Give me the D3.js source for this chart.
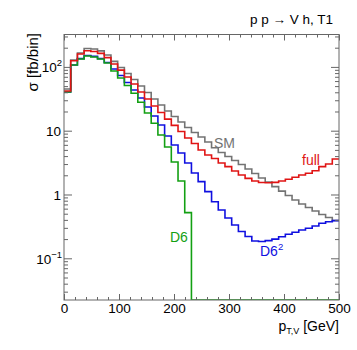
<!DOCTYPE html>
<html>
<head>
<meta charset="utf-8">
<script src="https://cdn.jsdelivr.net/npm/d3@7"></script>
<style>
body { margin: 0; background: #fff; }
text { font-family: "Liberation Sans", Arial, sans-serif; }
</style>
</head>
<body>
<svg id="chart"></svg>
<script>
var width = 357;
var height = 350;

// histogram: 41 bins between 0 and 500 GeV
var xMin = 0, xMax = 500, nBins = 41;

var sm = [45, 128, 165, 194, 191, 178, 154, 122, 98, 78.8, 63.4, 50.2, 39.7, 31.4, 25.3, 20.4,
  16.7, 13.7, 11.2, 9.37, 7.96, 6.65, 5.4, 4.55, 3.95, 3.42, 2.95, 2.51, 2.13, 1.81, 1.57,
  1.33, 1.13, 0.965, 0.82, 0.71, 0.625, 0.551, 0.486, 0.436, 0.391];

var full = [41.9, 125, 159, 179, 174, 163, 140, 111, 89, 69.5, 54, 40.4, 31.4, 24.4, 19.3, 15.2,
  12.1, 9.7, 7.69, 6.3, 4.98, 4.16, 3.67, 3.12, 2.73, 2.34, 2.02, 1.79, 1.63, 1.54, 1.53,
  1.55, 1.63, 1.73, 1.86, 2.02, 2.15, 2.36, 2.73, 3.0, 3.6];

var d6sq = [40.4, 107, 135, 151, 146, 135, 117, 92.7, 73.3, 56.9, 43.5, 32.6, 23.5, 17, 12.3, 8.26,
  5.97, 4.47, 3.12, 2.17, 1.59, 1.11, 0.77, 0.57, 0.428, 0.333, 0.263, 0.22, 0.187, 0.183, 0.189,
  0.2, 0.218, 0.238, 0.256, 0.278, 0.295, 0.32, 0.354, 0.375, 0.39];

var d6 = [40.4, 107, 133, 148, 143, 133, 115, 86.3, 67, 51.1, 38.6, 27.9, 18.9, 13.1, 8.56, 5.55,
  3.23, 1.63, 0.52, 0, 0, 0, 0, 0, 0, 0, 0, 0, 0, 0, 0,
  0, 0, 0, 0, 0, 0, 0, 0, 0, 0];

var xTicks = [0, 100, 200, 300, 400, 500];
var yTicks = [0.1, 1, 10, 100];
var yTickLabels = [["10", "\u22121"], ["1", ""], ["10", ""], ["10", "2"]];

var series = [
  {name: "SM", values: sm, color: "#737373"},
  {name: "D6sq", values: d6sq, color: "#1010e0"},
  {name: "D6", values: d6, color: "#13a013"},
  {name: "full", values: full, color: "#e01414"}
];

var plot = {left: 64, right: 339, top: 34.5, bottom: 300};
var yMin = 0.0222, yMax = 322;

var svg = d3.select("#chart")
  .attr("width", width)
  .attr("height", height);

var x = d3.scaleLinear().domain([xMin, xMax]).range([plot.left, plot.right]);
var y = d3.scaleLog().domain([yMin, yMax]).range([plot.bottom, plot.top]);

var binW = (xMax - xMin) / nBins;

svg.append("clipPath").attr("id", "clip")
  .append("rect")
  .attr("x", plot.left).attr("y", plot.top)
  .attr("width", plot.right - plot.left)
  .attr("height", plot.bottom - plot.top);

var yc = function(v) {
  if (v < yMin) return y(yMin);
  return y(v);
};

var histPath = function(vals) {
  var p = "M" + x(xMin) + "," + yc(vals[0]);
  vals.forEach(function(v, i) {
    if (i > 0) p += "V" + yc(v);
    p += "H" + x(xMin + (i + 1) * binW);
  });
  return p;
};

svg.append("g").attr("clip-path", "url(#clip)")
  .selectAll("path")
  .data(series)
  .enter()
  .append("path")
  .attr("d", function(d) { return histPath(d.values); })
  .attr("fill", "none")
  .attr("stroke", function(d) { return d.color; })
  .attr("stroke-width", 1.6);

// axes, ROOT style: ticks inside, on all four sides
var axisColor = "#666";
var xMinor = d3.range(0, 501, 20).filter(function(t) { return t % 100 != 0; });
var yMinor = [];
[0.01, 0.1, 1, 10, 100].forEach(function(dec) {
  for (var k = 2; k <= 9; k++) {
    var v = dec * k;
    if (v > yMin && v < yMax) yMinor.push(v);
  }
});

var addAxis = function(axis, tx, ty) {
  var g = svg.append("g").attr("transform", "translate(" + tx + "," + ty + ")").call(axis);
  g.select(".domain").remove();
  g.selectAll("line").attr("stroke", axisColor);
  return g;
};

var gx = addAxis(d3.axisBottom(x).tickValues(xTicks).tickSizeInner(-6).tickPadding(3)
  .tickFormat(d3.format("d")), 0, plot.bottom);
gx.selectAll("text").attr("font-size", "13.5px").attr("fill", "#000")
  .attr("font-family", "Liberation Sans, Arial, sans-serif");
addAxis(d3.axisBottom(x).tickValues(xMinor).tickSizeInner(-3).tickFormat(""), 0, plot.bottom);
addAxis(d3.axisTop(x).tickValues(xTicks).tickSizeInner(-6).tickFormat(""), 0, plot.top);
addAxis(d3.axisTop(x).tickValues(xMinor).tickSizeInner(-3).tickFormat(""), 0, plot.top);

var gy = addAxis(d3.axisLeft(y).tickValues(yTicks).tickSizeInner(-8).tickFormat(""), plot.left, 0);
addAxis(d3.axisLeft(y).tickValues(yMinor).tickSizeInner(-4).tickFormat(""), plot.left, 0);
addAxis(d3.axisRight(y).tickValues(yTicks).tickSizeInner(-8).tickFormat(""), plot.right, 0);
addAxis(d3.axisRight(y).tickValues(yMinor).tickSizeInner(-4).tickFormat(""), plot.right, 0);

gy.selectAll(".tick").each(function(d, i) {
  var lab = yTickLabels[i];
  var t = d3.select(this).append("text")
    .attr("x", lab[1] ? -2 : -3)
    .attr("y", 5)
    .attr("text-anchor", "end")
    .attr("font-size", "13.5px")
    .attr("fill", "#000");
  t.append("tspan").text(lab[0]);
  if (lab[1]) {
    t.append("tspan").attr("font-size", "9.5px").attr("dy", -6).text(lab[1]);
  }
});

svg.append("rect")
  .attr("x", plot.left).attr("y", plot.top)
  .attr("width", plot.right - plot.left)
  .attr("height", plot.bottom - plot.top)
  .attr("fill", "none")
  .attr("stroke", axisColor)
  .attr("stroke-width", 1);

// titles
svg.append("text")
  .attr("x", 333).attr("y", 24)
  .attr("text-anchor", "end")
  .attr("font-size", "13.5px")
  .text("p p \u2192 V h, T1");

var xt = svg.append("text")
  .attr("x", plot.right).attr("y", 331)
  .attr("text-anchor", "end")
  .attr("font-size", "14px");
xt.append("tspan").text("p");
xt.append("tspan").attr("font-size", "9px").attr("dy", 3).text("T,V");
xt.append("tspan").attr("dy", -3).text(" [GeV]");

svg.append("text")
  .attr("transform", "translate(38,33) rotate(-90)")
  .attr("text-anchor", "end")
  .attr("font-size", "15px")
  .text("\u03c3 [fb/bin]");

// curve labels
var labels = [
  {text: "SM", sup: "", x: 214, y: 148, color: "#737373"},
  {text: "full", sup: "", x: 302, y: 165, color: "#e01414"},
  {text: "D6", sup: "", x: 170, y: 242, color: "#13a013"},
  {text: "D6", sup: "2", x: 260, y: 256, color: "#1010e0"}
];
labels.forEach(function(l) {
  var t = svg.append("text")
    .attr("x", l.x).attr("y", l.y)
    .attr("font-size", "14px")
    .attr("fill", l.color);
  t.append("tspan").text(l.text);
  if (l.sup) t.append("tspan").attr("font-size", "9.5px").attr("dy", -6).text(l.sup);
});
</script>
</body>
</html>
